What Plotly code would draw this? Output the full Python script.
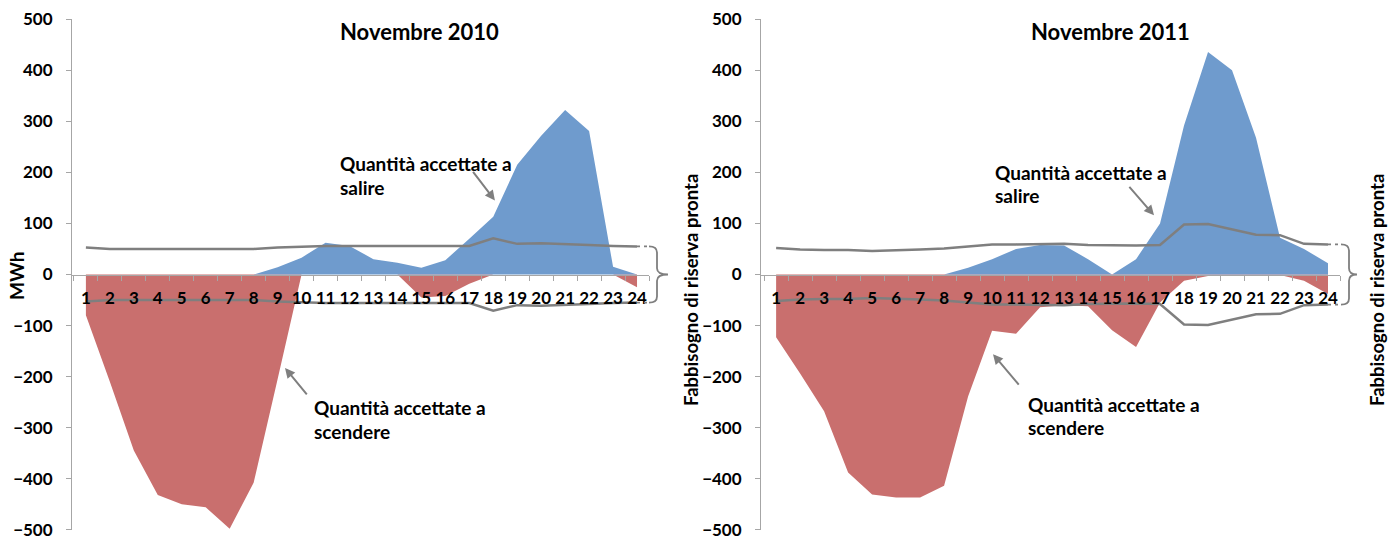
import plotly.graph_objects as go

# Hourly accepted quantities (MWh) and ready-reserve requirement, two months
hours = list(range(1, 25))
hour_labels = [str(h) for h in hours]

salire_2010 = [0, 0, 0, 0, 0, 0, 0, 0, 14, 33, 62, 56, 30, 23, 13, 28, 70, 113, 215, 272, 322, 281, 15, 0]
scendere_2010 = [-80, -210, -345, -432, -450, -456, -498, -408, -205, 0, 0, 0, 0, 0, -45, -42, -18, 0, 0, 0, 0, 0, 0, -25]
fabbisogno_2010 = [53, 50, 50, 50, 49, 50, 49, 50, 53, 55, 56, 56, 56, 56, 55, 55, 56, 71, 60, 61, 60, 58, 56, 55]

salire_2011 = [0, 0, 0, 0, 0, 0, 0, 0, 13, 30, 50, 58, 57, 30, 0, 30, 100, 292, 436, 400, 268, 72, 50, 22]
scendere_2011 = [-123, -194, -268, -388, -431, -437, -437, -414, -239, -110, -116, -64, -60, -62, -109, -142, -55, -12, -3, -2, -2, -1, -12, -38]
fabbisogno_2011 = [52, 49, 48, 48, 46, 47, 49, 51, 55, 59, 59, 60, 60, 58, 57, 57, 58, 98, 99, 89, 78, 77, 60, 59]

W, H = 1388, 541
M_T, M_B = 19, 11
Y_MIN, Y_MAX = -500.5, 500.5

BLUE = "#6F9BCD"
RED = "#C96F6E"
GREY = "#7F7F7F"
AXIS_GREY = "#A6A6A6"
FONT = "Lato"


def px_x(px):
    return px / W


def px_y(py):
    return (H - M_B - py) / (H - M_T - M_B)


def val_y(v):
    return (v - Y_MIN) / (Y_MAX - Y_MIN)


panels = [
    dict(title="Novembre 2010", up=salire_2010, down=scendere_2010, fab=fabbisogno_2010,
         xa="x", ya="y", dom=(72 / W, 649 / W), xr=[0.42, 24.5], title_x=420,
         brace=(649, 657, 668), line_end=637,
         up_text=(338, 163, 187), up_arrow=(18.07, 145, -23, -30),
         down_text=(312, 407, 431), down_arrow=(9.31, -183, 23, 28),
         side_title_x=691),
    dict(title="Novembre 2011", up=salire_2011, down=scendere_2011, fab=fabbisogno_2011,
         xa="x2", ya="y2", dom=(761 / W, 1340 / W), xr=[0.37, 24.5], title_x=1110,
         brace=(1341, 1349, 1357), line_end=1328,
         up_text=(993, 172, 195), up_arrow=(16.75, 116, -26, -30),
         down_text=(1026, 404, 427), down_arrow=(10.04, -156, 27, 32),
         side_title_x=1377),
]

fig = go.Figure()
annotations = []
shapes = []


def label(text, x, y, size, anchor="center", angle=0):
    return dict(text="<b>" + text + "</b>", x=px_x(x), y=px_y(y), xref="paper", yref="paper",
                xanchor=anchor, yanchor="middle", textangle=angle, showarrow=False,
                font=dict(family=FONT, size=size, color="black"))


for p in panels:
    fig.add_trace(go.Scatter(x=hours, y=p["down"], mode="lines", fill="tozeroy",
                             fillcolor=RED, line=dict(width=0, color=RED),
                             name="Quantità accettate a scendere", showlegend=False,
                             xaxis=p["xa"], yaxis=p["ya"]))
    fig.add_trace(go.Scatter(x=hours, y=p["up"], mode="lines", fill="tozeroy",
                             fillcolor=BLUE, line=dict(width=0, color=BLUE),
                             name="Quantità accettate a salire", showlegend=False,
                             xaxis=p["xa"], yaxis=p["ya"]))
    fig.add_trace(go.Scatter(x=hours, y=p["fab"], mode="lines",
                             line=dict(width=2.5, color=GREY),
                             name="Fabbisogno di riserva pronta", showlegend=False,
                             xaxis=p["xa"], yaxis=p["ya"]))
    fig.add_trace(go.Scatter(x=hours, y=[-v for v in p["fab"]], mode="lines",
                             line=dict(width=2.5, color=GREY),
                             name="Fabbisogno di riserva pronta", showlegend=False,
                             xaxis=p["xa"], yaxis=p["ya"]))

    # chart title
    annotations.append(label(p["title"], p["title_x"], 31, 22))

    # callout labels with arrows
    tx, ty1, ty2 = p["up_text"]
    annotations.append(label("Quantità accettate a", tx, ty1, 19, "left"))
    annotations.append(label("salire", tx, ty2, 19, "left"))
    tx, ty1, ty2 = p["down_text"]
    annotations.append(label("Quantità accettate a", tx, ty1, 19, "left"))
    annotations.append(label("scendere", tx, ty2, 19, "left"))
    for (hx, hy, dx, dy) in (p["up_arrow"], p["down_arrow"]):
        annotations.append(dict(text="", x=hx, y=hy, xref=p["xa"], yref=p["ya"],
                                ax=dx, ay=dy, showarrow=True, arrowhead=2, arrowsize=1,
                                arrowwidth=2, arrowcolor=GREY))

    # right-hand axis title
    annotations.append(label("Fabbisogno di riserva pronta", p["side_title_x"], 290, 18.5, angle=-90))

    # brace grouping the two requirement lines
    x0, x1, x2 = (px_x(v) for v in p["brace"])
    top = val_y(p["fab"][-1])
    bot = val_y(-p["fab"][-1])
    mid = val_y(0)
    d = 0.012
    path = (f"M {x0},{top} Q {x1},{top} {x1},{top - d} "
            f"L {x1},{mid + d} Q {x1},{mid} {x2},{mid} "
            f"Q {x1},{mid} {x1},{mid - d} "
            f"L {x1},{bot + d} Q {x1},{bot} {x0},{bot}")
    shapes.append(dict(type="path", path=path, xref="paper", yref="paper",
                       line=dict(color=GREY, width=1.8)))
    xe = px_x(p["line_end"])
    for yy in (top, bot):
        shapes.append(dict(type="line", x0=xe, x1=x0, y0=yy, y1=yy, xref="paper", yref="paper",
                           line=dict(color=GREY, width=1.8, dash="3px,4px")))

annotations.append(label("MWh", 16, 275, 19, angle=-90))

tick_font = dict(family=FONT, size=17, color="black", weight="bold")

layout = dict(
    width=W, height=H,
    margin=dict(l=0, r=0, t=M_T, b=M_B, autoexpand=False),
    paper_bgcolor="white", plot_bgcolor="white",
    showlegend=False,
    annotations=annotations,
    shapes=shapes,
)

for i, p in enumerate(panels):
    xkey = "xaxis" if i == 0 else "xaxis2"
    ykey = "yaxis" if i == 0 else "yaxis2"
    layout[xkey] = dict(
        domain=list(p["dom"]), range=p["xr"], anchor="free", position=val_y(0),
        tickmode="array", tickvals=hours, ticktext=hour_labels, ticks="",
        minor=dict(tickmode="array", tickvals=[h + 0.5 for h in [0] + hours],
                   ticks="outside", ticklen=5, tickcolor=AXIS_GREY, tickwidth=1),
        showline=True, linecolor=AXIS_GREY, linewidth=1, automargin=False,
        showgrid=False, zeroline=False, tickfont=tick_font, ticklabelstandoff=8,
    )
    layout[ykey] = dict(
        domain=[0, 1], range=[Y_MIN, Y_MAX], anchor=p["xa"],
        tickmode="linear", tick0=0, dtick=100,
        ticks="outside", ticklen=5, tickcolor=AXIS_GREY,
        showline=True, linecolor=AXIS_GREY, linewidth=1, automargin=False,
        showgrid=False, zeroline=False, tickfont=tick_font, ticklabelstandoff=10,
        ticklabeloverflow="allow",
    )

fig.update_layout(**layout)
fig.write_html("out.html")
